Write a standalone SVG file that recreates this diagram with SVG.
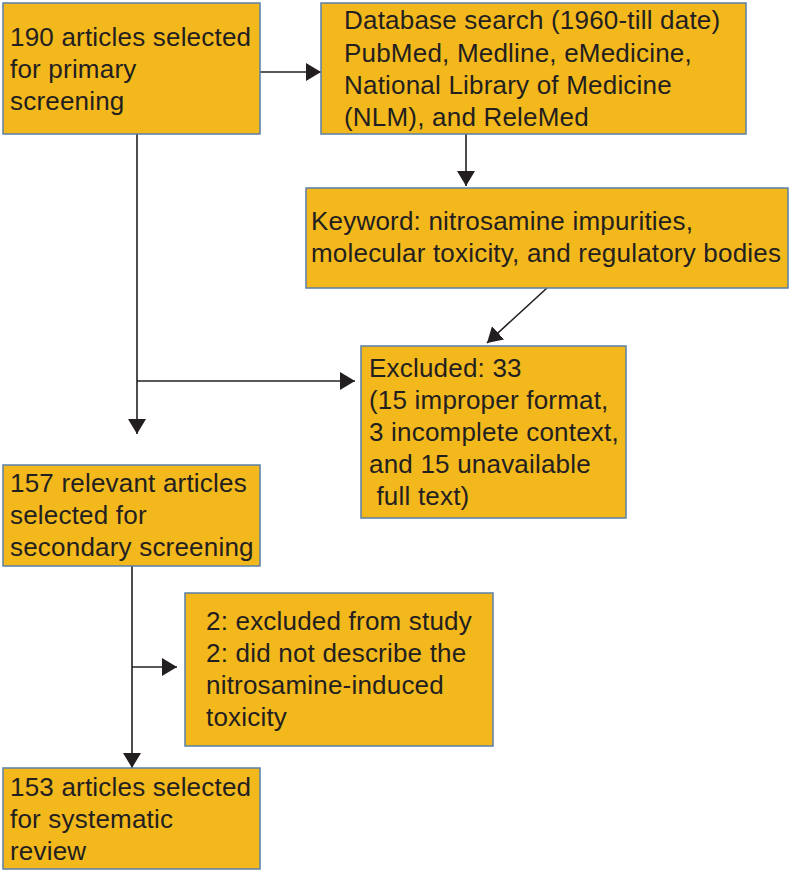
<svg xmlns="http://www.w3.org/2000/svg" width="791" height="872" viewBox="0 0 791 872">
<style>
.box{fill:#F3B81C;stroke:#5A7FA8;stroke-width:1.5}
.t{font-family:"Liberation Sans",Arial,sans-serif;font-size:26px;letter-spacing:0.2px;fill:#231F20}
.c{stroke:#231F20;stroke-width:1.6;fill:none}
</style>
<defs>
<marker id="ah" markerUnits="userSpaceOnUse" markerWidth="15" markerHeight="18" viewBox="0 0 15 18" refX="15" refY="9" orient="auto">
<path d="M0,0 L15,9 L0,18 Z" fill="#231F20"/>
</marker>
</defs>
<rect width="791" height="872" fill="#fff"/>
<g id="connectors">
<path class="c" d="M260,72 H321" marker-end="url(#ah)"/>
<path class="c" d="M466,134 V186" marker-end="url(#ah)"/>
<path class="c" d="M547,288 L487,343" marker-end="url(#ah)"/>
<path class="c" d="M137,134 V434" marker-end="url(#ah)"/>
<path class="c" d="M137,381 H355" marker-end="url(#ah)"/>
<path class="c" d="M132,566 V768" marker-end="url(#ah)"/>
<path class="c" d="M132,667 H177" marker-end="url(#ah)"/>
</g>
<g id="n1">
<rect class="box" x="3" y="3" width="257" height="131"/>
<text class="t"><tspan x="10" y="46">190 articles selected</tspan><tspan x="10" y="78">for primary</tspan><tspan x="10" y="110">screening</tspan></text>
</g>
<g id="n2">
<rect class="box" x="321" y="3" width="425" height="131"/>
<text class="t"><tspan x="344" y="29">Database search (1960-till date)</tspan><tspan x="344" y="62">PubMed, Medline, eMedicine,</tspan><tspan x="344" y="94">National Library of Medicine</tspan><tspan x="344" y="126">(NLM), and ReleMed</tspan></text>
</g>
<g id="n3">
<rect class="box" x="306" y="188" width="482" height="100"/>
<text class="t"><tspan x="311" y="230">Keyword: nitrosamine impurities,</tspan><tspan x="311" y="262">molecular toxicity, and regulatory bodies</tspan></text>
</g>
<g id="n4">
<rect class="box" x="361" y="346" width="265" height="172"/>
<text class="t"><tspan x="369" y="377">Excluded: 33</tspan><tspan x="369" y="409">(15 improper format,</tspan><tspan x="369" y="441">3 incomplete context,</tspan><tspan x="369" y="473">and 15 unavailable</tspan><tspan x="369" y="505"> full text)</tspan></text>
</g>
<g id="n5">
<rect class="box" x="3" y="465" width="257" height="101"/>
<text class="t"><tspan x="10" y="492">157 relevant articles</tspan><tspan x="10" y="524">selected for</tspan><tspan x="10" y="556">secondary screening</tspan></text>
</g>
<g id="n6">
<rect class="box" x="185" y="593" width="308" height="153"/>
<text class="t"><tspan x="206" y="630">2: excluded from study</tspan><tspan x="206" y="662">2: did not describe the</tspan><tspan x="206" y="694">nitrosamine-induced</tspan><tspan x="206" y="726">toxicity</tspan></text>
</g>
<g id="n7">
<rect class="box" x="3" y="768" width="257" height="101"/>
<text class="t"><tspan x="10" y="796">153 articles selected</tspan><tspan x="10" y="828">for systematic</tspan><tspan x="10" y="860">review</tspan></text>
</g>
</svg>
